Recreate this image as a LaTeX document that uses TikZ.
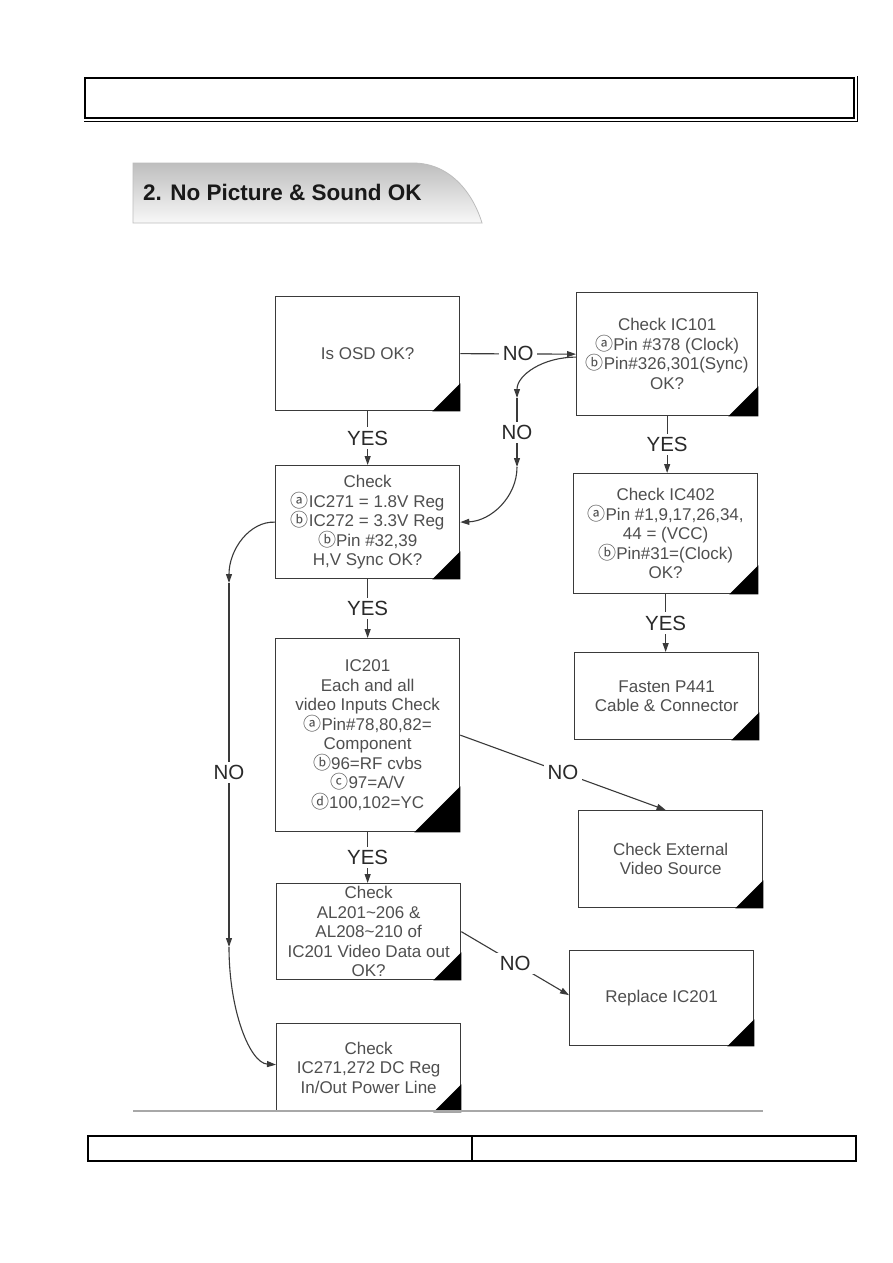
\documentclass[tikz,border=0pt]{standalone}
\usepackage{fontspec}
\setmainfont{Liberation Sans}
\newfontfamily\cjkfont{Noto Sans CJK KR}
\usetikzlibrary{arrows.meta}
\definecolor{boxgray}{HTML}{3A3A3A}
\definecolor{txtgray}{HTML}{4F4F4F}
\definecolor{lblgray}{HTML}{2A2A2A}
\definecolor{tabtop}{HTML}{BEBEBE}
\definecolor{tabbot}{HTML}{F8F8F8}
\definecolor{tabline}{HTML}{BDBDBD}
\definecolor{rulegray}{HTML}{A8A8A8}
\newcommand\cir[1]{{\cjkfont\fontsize{18}{19.5}\selectfont #1}}
\newcommand\cornertri[2]{\fill[black] (#1.south east) -- ++(-#2,0) -- ++(#2,-#2) -- cycle;}
\begin{document}
\begin{tikzpicture}[x=1pt,y=-1pt,
  fbox/.style={draw=boxgray,line width=1.3pt,fill=white,align=center,inner sep=0pt,
    text=txtgray,font=\fontsize{17}{19.5}\selectfont,anchor=north west},
  arr/.style={draw=boxgray,line width=1.1pt,-{Triangle[length=9pt,width=6pt]}},
  lbl/.style={fill=white,inner sep=3.5pt,text=lblgray,font=\fontsize{20.5}{24}\selectfont}]
\useasboundingbox (0,0) rectangle (893,1263);
\fill[white] (0,0) rectangle (893,1263);

% header frame
\draw[line width=2pt,black] (85,78) rectangle (854,118);
\draw[line width=0.8pt,black] (84,121) -- (857,121) -- (857,76);

% title tab
\shade[top color=tabtop,bottom color=tabbot,draw=tabline,line width=0.8pt]
  (133,163) -- (413,163) .. controls (452,163) and (474,196) .. (482,223) -- (133,223) -- cycle;
\node[anchor=base west,inner sep=0pt,font=\fontsize{22.5}{27}\selectfont\bfseries,text=black!90] (title) at (143,200) {2. No Picture \& Sound OK};

% boxes
\node[fbox,minimum width=184pt,minimum height=114pt] (b1) at (275,296) {Is OSD OK?};
\node[fbox,minimum width=181pt,minimum height=123pt] (b2) at (576,292) {Check IC101\\\cir{ⓐ}Pin \#378 (Clock)\\\cir{ⓑ}Pin\#326,301(Sync)\\OK?};
\node[fbox,minimum width=184pt,minimum height=113pt] (b3) at (275,465) {Check\\\cir{ⓐ}IC271 = 1.8V Reg\\\cir{ⓑ}IC272 = 3.3V Reg\\\cir{ⓑ}Pin \#32,39\\H,V Sync OK?};
\node[fbox,minimum width=184pt,minimum height=120pt] (b4) at (573,473) {Check IC402\\\cir{ⓐ}Pin \#1,9,17,26,34,\\44 = (VCC)\\\cir{ⓑ}Pin\#31=(Clock)\\OK?};
\node[fbox,minimum width=184pt,minimum height=87pt] (b5) at (574,652) {Fasten P441\\Cable \& Connector};
\node[fbox,minimum width=184pt,minimum height=193pt] (b6) at (275,638) {IC201\\Each and all\\video Inputs Check\\\cir{ⓐ}Pin\#78,80,82=\\Component\\\cir{ⓑ}96=RF cvbs\\\cir{ⓒ}97=A/V\\\cir{ⓓ}100,102=YC};
\node[fbox,minimum width=184pt,minimum height=97pt] (b7) at (578,810) {Check External\\Video Source};
\node[fbox,minimum width=184pt,minimum height=96pt] (b8) at (276,883) {Check\\AL201\textasciitilde206 \&\\AL208\textasciitilde210 of\\IC201 Video Data out\\OK?};
\node[fbox,minimum width=184pt,minimum height=95pt] (b9) at (569,950) {Replace IC201};
\node[fbox,minimum width=184pt,minimum height=88pt] (b10) at (276,1023) {Check\\IC271,272 DC Reg\\In/Out Power Line};

% corner triangles
\cornertri{b1}{28}
\cornertri{b2}{30}
\cornertri{b3}{28}
\cornertri{b4}{29}
\cornertri{b5}{28}
\cornertri{b6}{46}
\cornertri{b7}{28}
\cornertri{b8}{28}
\cornertri{b9}{27}
\cornertri{b10}{28}

% YES connectors
\draw[arr] (b1.south) -- node[lbl]{YES} (b1.south |- b3.north);
\draw[arr] (b2.south) -- node[lbl]{YES} (b2.south |- b4.north);
\draw[arr] (b3.south) -- node[lbl]{YES} (b3.south |- b6.north);
\draw[arr] (b4.south) -- node[lbl]{YES} (b4.south |- b5.north);
\draw[arr] (b6.south) -- node[lbl]{YES} (b6.south |- b8.north);

% NO connectors
\draw[arr] (b1.east) -- node[lbl]{NO} (b2.west);

\coordinate (n2a) at (517,398);
\coordinate (n2b) at (517,467);
\draw[arr] ([yshift=-3pt]b2.west) .. controls (543,357) and (517,375) .. (n2a);
\draw[arr] (n2a) -- node[lbl]{NO} (n2b);
\draw[arr] (n2b) .. controls (517,497) and (491,521) .. (b3.east);

\coordinate (n1a) at (229,583);
\coordinate (n1b) at (229,947);
\draw[arr] (b3.west) .. controls (250,521) and (229,549) .. (n1a);
\draw[arr] (n1a) -- node[lbl,pos=0.52]{NO} (n1b);
\draw[arr] (n1b) .. controls (229,1011) and (250,1063) .. ([yshift=3pt]b10.west);

\draw[arr] (b6.east) -- node[lbl]{NO} ([xshift=-5pt]b7.north);
\draw[arr] (b8.east) -- node[lbl]{NO} ([yshift=3pt]b9.west);

% bottom rule and footer
\draw[rulegray,line width=1.2pt] (133,1111) -- (763,1111);
\draw[black,line width=1.2pt] (88,1136) rectangle (856,1161);
\draw[black,line width=1.2pt] (472,1136) -- (472,1161);
\end{tikzpicture}
\end{document}
